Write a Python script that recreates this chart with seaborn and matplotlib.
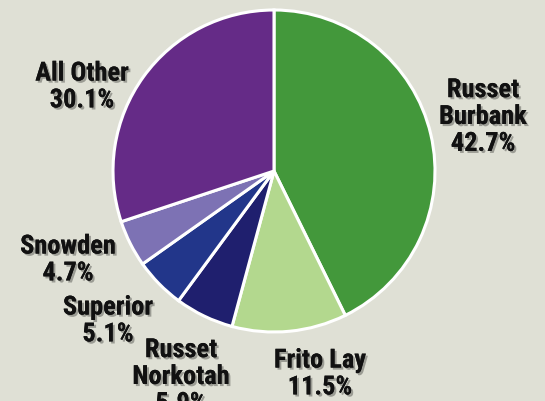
#!/usr/bin/env python3

import seaborn as sns
import matplotlib.pyplot as plt
import matplotlib.patheffects as pe

varieties = ["Russet\nBurbank", "Frito Lay", "Russet\nNorkotah", "Superior", "Snowden", "All Other"]
shares = [42.7, 11.5, 5.9, 5.1, 4.7, 30.1]
colors = ["#43983b", "#b3d88e", "#1f1f6e", "#22368a", "#7d72b4", "#652b87"]

# label centres in pixels (from top-left)
label_xy = [(483, 118), (320, 375), (181, 378), (108, 322), (68, 261), (82, 88)]

sns.set_style("white")
plt.rcParams["font.family"] = ["Roboto Condensed", "Liberation Sans", "DejaVu Sans"]

W, H = 545, 402
bg = "#dfe0d5"
fig = plt.figure(figsize=(W / 100, H / 100), dpi=100, facecolor=bg)
ax = fig.add_axes([0, 0, 1, 1])
ax.set_facecolor(bg)

ax.pie(shares, colors=colors, startangle=90, counterclock=False,
       center=(274, H - 172), radius=161, frame=True,
       wedgeprops=dict(edgecolor="white", linewidth=2.2))
ax.set_xlim(0, W)
ax.set_ylim(0, H)
ax.set_aspect("equal")
ax.axis("off")

shadow = [pe.withSimplePatchShadow(offset=(1.5, -1.5), shadow_rgbFace="#000000", alpha=0.3), pe.Normal()]
for name, val, (x, y) in zip(varieties, shares, label_xy):
    ax.text(x, H - y, f"{name}\n{val:.1f}%", ha="center", va="center",
            fontsize=19, fontweight="bold", color="#111111", linespacing=1.15,
            path_effects=shadow)

fig.savefig("out.png", dpi=100, facecolor=fig.get_facecolor())
